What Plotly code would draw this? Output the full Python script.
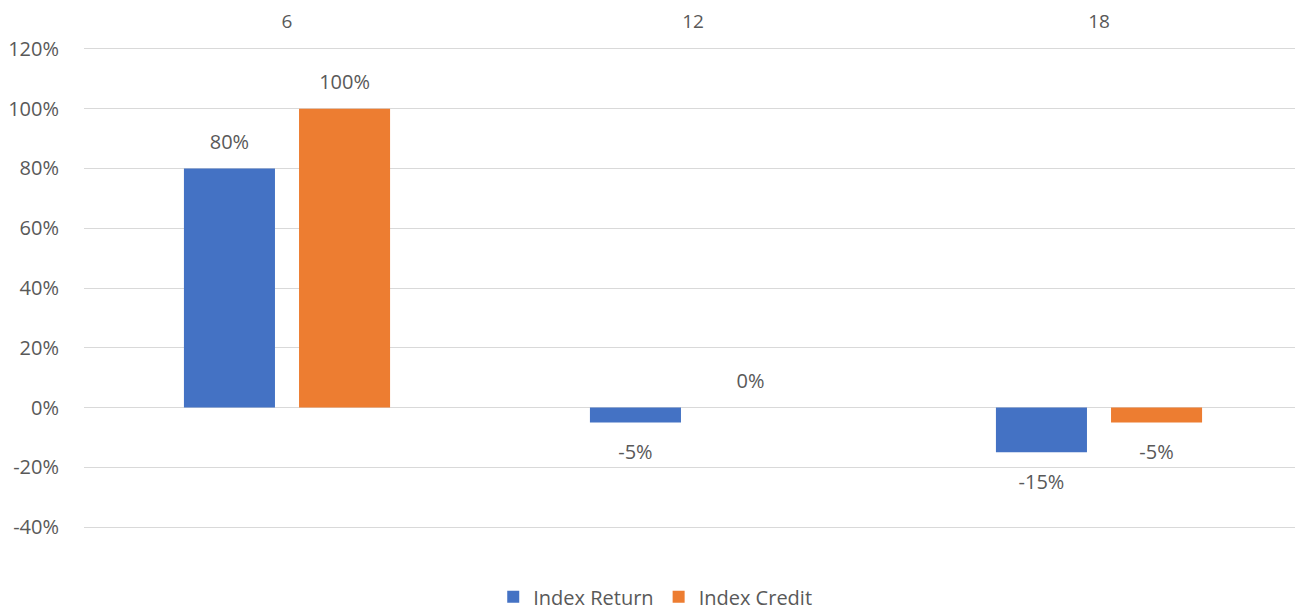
import plotly.graph_objects as go

categories = ["6", "12", "18"]
index_return = [80, -5, -15]
index_credit = [100, 0, -5]
y_ticks = [-40, -20, 0, 20, 40, 60, 80, 100, 120]
y_tick_labels = ["-40%", "-20%", "0%", "20%", "40%", "60%", "80%", "100%", "120%"]

FONT = "Open Sans"
TXT = "#595959"


def labels(vals):
    out = []
    for v in vals:
        big = f"<span style='font-size:20px'>{v}%</span>"
        if v >= 0:
            out.append(f"{big}<br> ")
        else:
            out.append(f" <br> <br>{big}")
    return out


def spacer_sizes(vals):
    return [10.5 if v >= 0 else 9 for v in vals]


fig = go.Figure()
fig.add_trace(go.Bar(name="Index Return", x=categories, y=index_return,
                     marker=dict(color="#4472C4", line=dict(width=0)),
                     text=labels(index_return), textposition="outside",
                     textfont=dict(size=spacer_sizes(index_return), color=TXT, family=FONT),
                     cliponaxis=False))
fig.add_trace(go.Bar(name="Index Credit", x=categories, y=index_credit,
                     marker=dict(color="#ED7D31", line=dict(width=0)),
                     text=labels(index_credit), textposition="outside",
                     textfont=dict(size=spacer_sizes(index_credit), color=TXT, family=FONT),
                     cliponaxis=False))

fig.update_layout(
    width=1295, height=605,
    margin=dict(l=76, r=1, t=38, b=83, autoexpand=False),
    paper_bgcolor="white", plot_bgcolor="white",
    font=dict(family=FONT, size=20, color=TXT),
    barmode="group", bargap=0.433, bargroupgap=0.209,
    showlegend=True,
    legend=dict(orientation="h", x=0.469, xanchor="center", y=-0.138, yanchor="middle",
                font=dict(size=20, color=TXT, family=FONT), itemwidth=30,
                traceorder="normal"),
    xaxis=dict(type="category", side="top", showgrid=False, showline=False, zeroline=False,
               automargin=False,
               ticks="outside", ticklen=9, tickcolor="rgba(0,0,0,0)",
               tickfont=dict(size=19, color=TXT, family=FONT)),
    yaxis=dict(range=[-41, 121], tickvals=y_ticks, ticktext=y_tick_labels,
               automargin=False,
               showgrid=True, gridcolor="#D9D9D9", gridwidth=1,
               zeroline=True, zerolinecolor="#D9D9D9", zerolinewidth=1,
               showline=False, ticks="outside", ticklen=20, tickcolor="rgba(0,0,0,0)",
               tickfont=dict(size=20, color=TXT, family=FONT)),
)

fig.write_html("out.html")
